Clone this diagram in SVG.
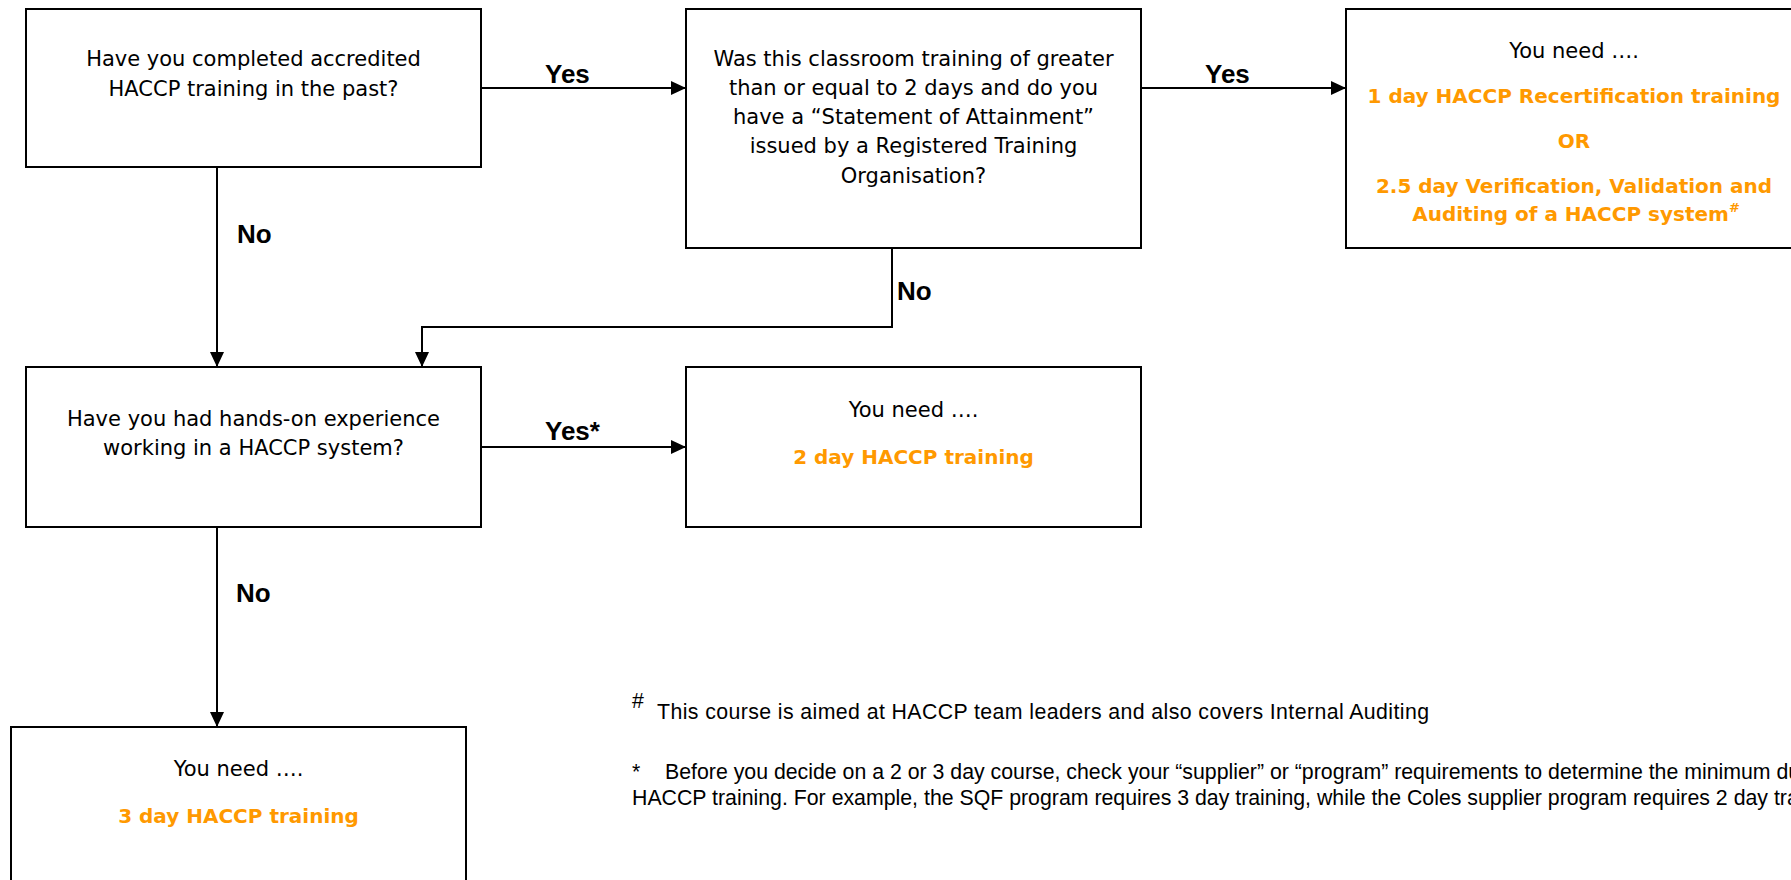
<svg xmlns="http://www.w3.org/2000/svg" width="1791" height="880" viewBox="0 0 1791 880">
  <defs>
    <marker id="arrow" markerUnits="userSpaceOnUse" markerWidth="15" markerHeight="14" refX="15" refY="7" orient="auto">
      <path d="M0,0 L15,7 L0,14 Z" fill="#000"/>
    </marker>
    <style>
      .box { fill: #fff; stroke: #000; stroke-width: 2; }
      .q { font-family: "DejaVu Sans", "Liberation Sans", sans-serif; font-size: 21px; fill: #000; text-anchor: middle; }
      .o { font-family: "DejaVu Sans", "Liberation Sans", sans-serif; font-size: 20px; font-weight: bold; fill: #FF9900; text-anchor: middle; }
      .lbl { font-family: "Liberation Sans", Arial, sans-serif; font-size: 26px; font-weight: bold; fill: #000; }
      .conn { fill: none; stroke: #000; stroke-width: 2; }
      .fn { font-family: "Liberation Sans", Arial, sans-serif; font-size: 21.3px; fill: #000; }
    </style>
  </defs>
  <rect width="1791" height="880" fill="#fff"/>

  <g id="connectors">
    <path class="conn" d="M481 88 H686" marker-end="url(#arrow)"/>
    <path class="conn" d="M1141 88 H1346" marker-end="url(#arrow)"/>
    <path class="conn" d="M217 167 V367" marker-end="url(#arrow)"/>
    <path class="conn" d="M892 248 V327 H422 V367" marker-end="url(#arrow)"/>
    <path class="conn" d="M481 447 H686" marker-end="url(#arrow)"/>
    <path class="conn" d="M217 527 V727" marker-end="url(#arrow)"/>
    <text class="lbl" x="545" y="83">Yes</text>
    <text class="lbl" x="1205" y="83">Yes</text>
    <text class="lbl" x="237" y="243">No</text>
    <text class="lbl" x="897" y="300">No</text>
    <text class="lbl" x="545" y="440">Yes*</text>
    <text class="lbl" x="236" y="602">No</text>
  </g>

  <g id="q1">
    <rect class="box" x="26" y="9" width="455" height="158"/>
    <text class="q" x="253.5" y="66">Have you completed accredited</text>
    <text class="q" x="253.5" y="96">HACCP training in the past?</text>
  </g>

  <g id="q2">
    <rect class="box" x="686" y="9" width="455" height="239"/>
    <text class="q" x="913.5" y="66">Was this classroom training of greater</text>
    <text class="q" x="913.5" y="95">than or equal to 2 days and do you</text>
    <text class="q" x="913.5" y="124">have a “Statement of Attainment”</text>
    <text class="q" x="913.5" y="153">issued by a Registered Training</text>
    <text class="q" x="913.5" y="183">Organisation?</text>
  </g>

  <g id="r1">
    <rect class="box" x="1346" y="9" width="456" height="239"/>
    <text class="q" x="1574" y="58">You need ….</text>
    <text class="o" x="1574" y="103">1 day HACCP Recertification training</text>
    <text class="o" x="1574" y="148">OR</text>
    <text class="o" x="1574" y="193">2.5 day Verification, Validation and</text>
    <text class="o" x="1576" y="221">Auditing of a HACCP system<tspan font-size="13" dy="-9">#</tspan></text>
  </g>

  <g id="q3">
    <rect class="box" x="26" y="367" width="455" height="160"/>
    <text class="q" x="253.5" y="426">Have you had hands-on experience</text>
    <text class="q" x="253.5" y="455">working in a HACCP system?</text>
  </g>

  <g id="r2">
    <rect class="box" x="686" y="367" width="455" height="160"/>
    <text class="q" x="913.5" y="417">You need ….</text>
    <text class="o" x="913.5" y="464">2 day HACCP training</text>
  </g>

  <g id="r3">
    <rect class="box" x="11" y="727" width="455" height="200"/>
    <text class="q" x="238.5" y="776">You need ….</text>
    <text class="o" x="238.5" y="823">3 day HACCP training</text>
  </g>

  <g id="footnotes">
    <text class="fn" x="632" y="708" font-size="13">#</text>
    <text class="fn" x="657" y="719" textLength="772">This course is aimed at HACCP team leaders and also covers Internal Auditing</text>
    <text class="fn" x="632" y="779">*</text>
    <text class="fn" x="665" y="779">Before you decide on a 2 or 3 day course, check your “supplier” or “program” requirements to determine the minimum duration of</text>
    <text class="fn" x="632" y="805">HACCP training. For example, the SQF program requires 3 day training, while the Coles supplier program requires 2 day training.</text>
  </g>
</svg>
